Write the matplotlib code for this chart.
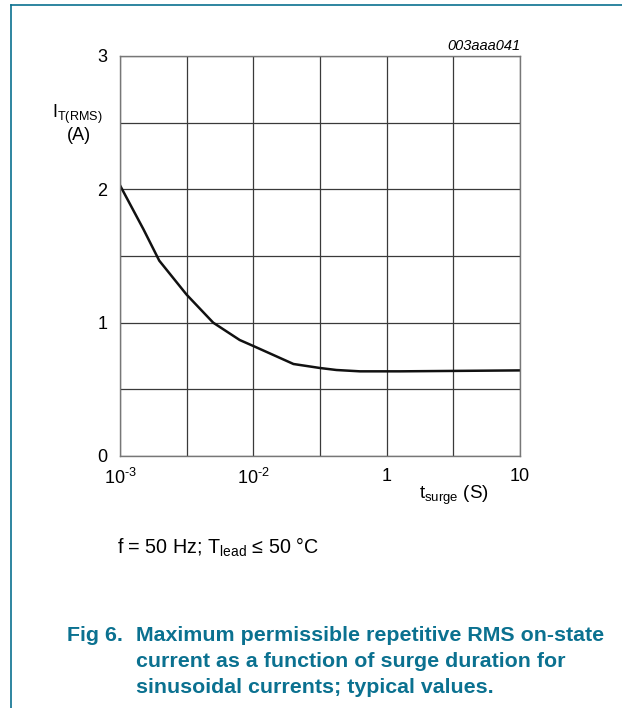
import numpy as np
import matplotlib.pyplot as plt
from matplotlib.lines import Line2D

plt.rcParams['font.family'] = ['Liberation Sans', 'DejaVu Sans']
plt.rcParams['mathtext.fontset'] = 'custom'
plt.rcParams['mathtext.rm'] = 'Liberation Sans'
plt.rcParams['mathtext.it'] = 'Liberation Sans:italic'

# curva I_T(RMS) frente a duración del pulso
t_surge = [1.0e-3, 1.5e-3, 1.97e-3, 3.16e-3, 5.0e-3, 7.9e-3, 1.0e-2,
           2.0e-2, 3.16e-2, 4.2e-2, 6.3e-2, 0.126, 1.0]
i_rms = [2.03, 1.70, 1.465, 1.21, 1.00, 0.87, 0.825,
         0.69, 0.66, 0.645, 0.635, 0.635, 0.642]

x_ticks = [1e-3, 1e-2, 1e-1, 1.0]
x_labels = ['10$^{\\mathregular{\u20103}}$', '10$^{\\mathregular{\u20102}}$', '1', '10']
x_minor = [3.16e-3, 3.16e-2, 0.316]
y_ticks = [0, 1, 2, 3]
y_minor = [0.5, 1.5, 2.5]

teal = '#0b7190'
grid_col = '#3a3a3a'

fig = plt.figure(figsize=(6.22, 7.08), dpi=100)
ax = fig.add_axes([120 / 622, 252 / 708, 400 / 622, 400 / 708])

ax.plot(t_surge, i_rms, color='#111111', lw=1.8, solid_joinstyle='miter')
ax.set_xscale('log')
ax.set_xlim(1e-3, 1.0)
ax.set_ylim(0, 3)

ax.set_xticks(x_ticks)
ax.set_xticklabels(x_labels)
ax.set_xticks(x_minor, minor=True)
ax.set_yticks(y_ticks)
ax.set_yticks(y_minor, minor=True)
ax.tick_params(which='both', length=0)
ax.tick_params(axis='x', pad=8.5, labelsize=13)
ax.tick_params(axis='y', pad=9, labelsize=13)
ax.grid(True, which='both', color=grid_col, lw=0.9)
ax.set_axisbelow(True)
for s in ax.spines.values():
    s.set_color('#777777')
    s.set_linewidth(1.0)

# rótulos de ejes
fig.text(52 / 622, 1 - 118 / 708, r'I$_{\mathregular{T(RMS)}}$', fontsize=13,
         ha='left', va='baseline')
fig.text(79 / 622, 1 - 140 / 708, '(A)', fontsize=13, ha='center', va='baseline')
fig.text(419 / 622, 1 - 499 / 708, r't$_{\mathregular{surge}}$ (S)', fontsize=13.5,
         ha='left', va='baseline')
fig.text(520 / 622, 1 - 50 / 708, '003aaa041', fontsize=10.5, style='italic',
         ha='right', va='baseline')

# condiciones
fig.text(117 / 622, 1 - 554 / 708, r'f = 50 Hz; T$_{\mathregular{lead}}$ ≤ 50 °C',
         fontsize=14.2, ha='left', va='baseline')

# pie de figura
cap = ['Maximum permissible repetitive RMS on-state',
       'current as a function of surge duration for',
       'sinusoidal currents; typical values.']
fig.text(67 / 622, 1 - 641 / 708, 'Fig 6.', fontsize=15.4, weight='bold',
         color=teal, ha='left', va='baseline')
for k, line in enumerate(cap):
    fig.text(136 / 622, 1 - (641 + 26 * k) / 708, line, fontsize=15.4,
             weight='bold', color=teal, ha='left', va='baseline')

# marco
fig.add_artist(Line2D([11 / 622, 11 / 622], [0, 1 - 5 / 708],
                      transform=fig.transFigure, color=teal, lw=1.2))
fig.add_artist(Line2D([11 / 622, 1], [1 - 5 / 708, 1 - 5 / 708],
                      transform=fig.transFigure, color=teal, lw=1.2))

fig.savefig('out.png', dpi=100)
